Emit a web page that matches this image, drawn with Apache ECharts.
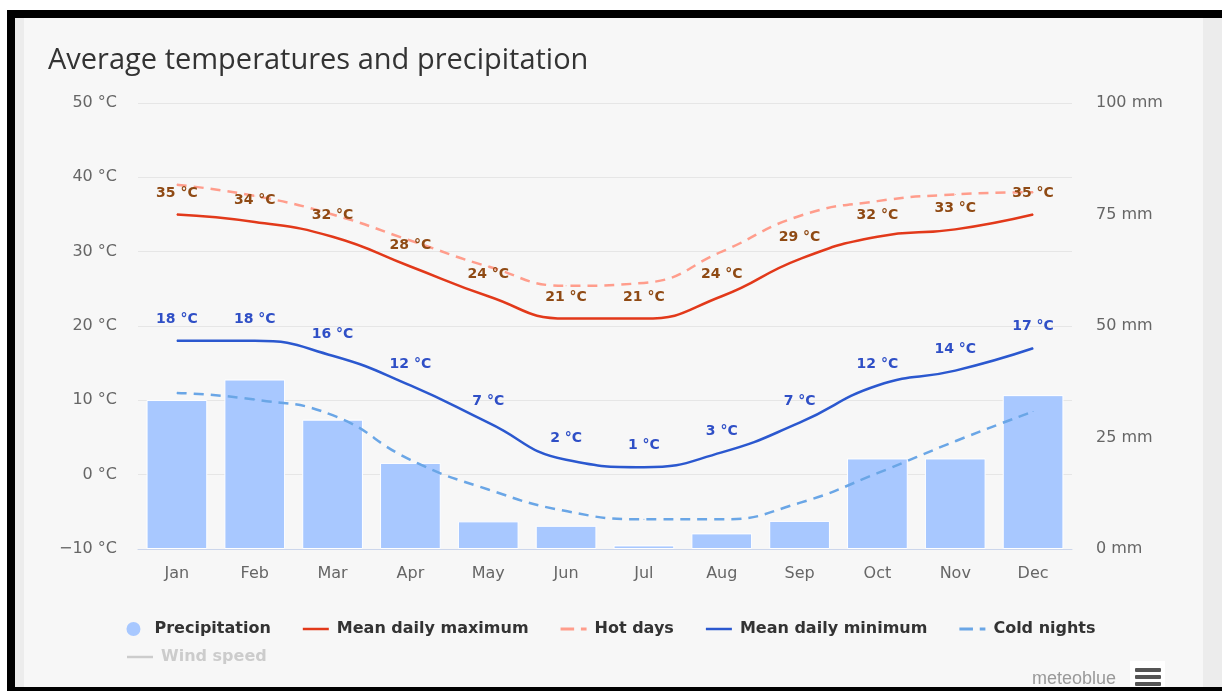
<!DOCTYPE html>
<html>
<head>
<meta charset="utf-8">
<title>Average temperatures and precipitation</title>
<script src="https://cdn.jsdelivr.net/npm/echarts@6/dist/echarts.min.js"></script>
<style>
html, body {
  margin: 0;
  padding: 0;
  width: 1222px;
  height: 691px;
  background: #fff;
  overflow: hidden;
}
.panel {
  position: absolute;
  left: 15px;
  top: 18px;
  width: 1207px;
  height: 669px;
  background: #f7f7f7;
}
.strip-left {
  position: absolute;
  left: 15px;
  top: 18px;
  width: 9px;
  height: 669px;
  background: #ececec;
}
.strip-right {
  position: absolute;
  left: 1203px;
  top: 18px;
  width: 19px;
  height: 669px;
  background: #ececec;
}
.bar-top {
  position: absolute;
  left: 7px;
  top: 10px;
  width: 1215px;
  height: 8px;
  background: #000;
  z-index: 3;
}
.bar-left {
  position: absolute;
  left: 7px;
  top: 10px;
  width: 8px;
  height: 681px;
  background: #000;
  z-index: 3;
}
.bar-bottom {
  position: absolute;
  left: 7px;
  top: 687px;
  width: 1215px;
  height: 4px;
  background: #000;
  z-index: 3;
}
#chart {
  position: absolute;
  left: 0;
  top: 0;
  width: 1222px;
  height: 691px;
  z-index: 2;
}
</style>
</head>
<body>
<div class="panel"></div>
<div class="strip-left"></div>
<div class="strip-right"></div>
<div id="chart"></div>
<div class="bar-top"></div>
<div class="bar-left"></div>
<div class="bar-bottom"></div>
<script>
var months = ["Jan", "Feb", "Mar", "Apr", "May", "Jun", "Jul", "Aug", "Sep", "Oct", "Nov", "Dec"];
// mm
var precipitation = [33.4, 38, 29, 19.3, 6.2, 5.2, 0.8, 3.5, 6.3, 20.3, 20.3, 34.5];
// °C
var meanMax = [35, 34, 32, 28, 24, 21, 21, 24, 29, 32, 33, 35];
var hotDays = [39, 37.5, 35, 31.5, 28, 25.4, 25.8, 30, 34.8, 36.8, 37.7, 38];
var meanMin = [18, 18, 16, 12, 7, 2, 1, 3, 7, 12, 14, 17];
var coldNights = [11, 10.1, 8, 2, -2, -4.9, -6, -6, -3.8, 0.2, 4.5, 8.5];
var windSpeed = [];

var tempTicks = { min: -10, max: 50, interval: 10 };
var rainTicks = { min: 0, max: 100, interval: 25 };

var labelFont = "DejaVu Sans, Verdana, sans-serif";

// legend icons: plain line and dash-dot line
var solidIcon = "path://M0,0h26v2.5h-26z";
var dashIcon = "path://M0,0h12v2.5h-12z M18,0h5v2.5h-5z";

var chart = echarts.init(document.getElementById("chart"), null, {
  width: 1222,
  height: 691
});

function lineSeries(name, data, color, dashed, labelColor) {
  var s = {
    name: name,
    type: "line",
    data: data,
    smooth: true,
    symbol: "circle",
    symbolSize: 1,
    lineStyle: { color: color, width: 2.5, type: dashed ? [10, 7] : "solid" },
    itemStyle: { color: color },
    z: dashed ? 2 : 3
  };
  if (labelColor) {
    s.label = {
      show: true,
      position: "top",
      distance: 14,
      formatter: "{c} \u00b0C",
      fontFamily: labelFont,
      fontSize: 14,
      fontWeight: "bold",
      color: labelColor
    };
  }
  return s;
}

var legendText = {
  fontFamily: labelFont,
  fontSize: 16,
  fontWeight: "bold",
  color: "#333",
  padding: [0, 0, 0, 3]
};

var option = {
  backgroundColor: "transparent",
  animation: false,
  title: {
    text: "Average temperatures and precipitation",
    left: 43,
    top: 41,
    textStyle: {
      fontFamily: "Open Sans, sans-serif",
      fontSize: 29,
      fontWeight: "normal",
      color: "#333"
    }
  },
  grid: {
    left: 138,
    right: 150,
    top: 103,
    bottom: 142
  },
  legend: [
    {
      left: "center",
      top: 616,
      itemWidth: 26,
      itemHeight: 14,
      itemGap: 32,
      itemStyle: { borderWidth: 0 },
      textStyle: legendText,
      data: [
        { name: "Precipitation", icon: "circle" },
        { name: "Mean daily maximum", icon: solidIcon },
        { name: "Hot days", icon: dashIcon },
        { name: "Mean daily minimum", icon: solidIcon },
        { name: "Cold nights", icon: dashIcon }
      ]
    },
    {
      left: 122,
      top: 644,
      itemWidth: 26,
      itemHeight: 14,
      inactiveColor: "#cccccc",
      itemStyle: { borderWidth: 0 },
      textStyle: legendText,
      data: [{ name: "Wind speed", icon: solidIcon }],
      selected: { "Wind speed": false }
    }
  ],
  xAxis: {
    type: "category",
    data: months,
    axisLine: { onZero: false, lineStyle: { color: "#ccd6eb", width: 1 } },
    axisTick: { alignWithLabel: true, length: 10, lineStyle: { color: "#ccd6eb" } },
    axisLabel: {
      margin: 17,
      fontFamily: labelFont,
      fontSize: 16,
      color: "#666"
    }
  },
  yAxis: [
    {
      type: "value",
      min: tempTicks.min,
      max: tempTicks.max,
      interval: tempTicks.interval,
      axisLine: { show: false },
      axisTick: { show: false },
      splitLine: { lineStyle: { color: "#e6e6e6" } },
      axisLabel: {
        margin: 21,
        fontFamily: labelFont,
        fontSize: 16,
        color: "#666",
        formatter: function(v) {
          return String(v).replace("-", "\u2212") + " \u00b0C";
        }
      }
    },
    {
      type: "value",
      min: rainTicks.min,
      max: rainTicks.max,
      interval: rainTicks.interval,
      axisLine: { show: false },
      axisTick: { show: false },
      splitLine: { show: false },
      axisLabel: {
        margin: 24,
        fontFamily: labelFont,
        fontSize: 16,
        color: "#666",
        formatter: "{value} mm"
      }
    }
  ],
  series: [
    {
      name: "Precipitation",
      type: "bar",
      yAxisIndex: 1,
      barWidth: "78%",
      data: precipitation,
      itemStyle: { color: "#a8c8ff", borderColor: "#ffffff", borderWidth: 1 },
      z: 1
    },
    lineSeries("Mean daily maximum", meanMax, "#e2391a", false, "#8f4a14"),
    lineSeries("Hot days", hotDays, "#ff9d8c", true),
    lineSeries("Mean daily minimum", meanMin, "#2b58cf", false, "#2f4fc6"),
    lineSeries("Cold nights", coldNights, "#6aa6e6", true),
    {
      name: "Wind speed",
      type: "line",
      data: windSpeed,
      symbol: "none",
      lineStyle: { color: "#888", width: 2 },
      itemStyle: { color: "#888" }
    }
  ],
  graphic: [
    {
      type: "text",
      left: 1032,
      top: 670,
      style: {
        text: "meteoblue",
        fontFamily: "Liberation Sans, Arial, sans-serif",
        fontSize: 18,
        fill: "#999"
      }
    },
    {
      type: "rect",
      left: 1130,
      top: 661,
      shape: { width: 35, height: 30 },
      style: { fill: "#ffffff" }
    },
    {
      type: "rect",
      left: 1135,
      top: 668,
      shape: { width: 26, height: 4, r: 1 },
      style: { fill: "#555" }
    },
    {
      type: "rect",
      left: 1135,
      top: 675,
      shape: { width: 26, height: 4, r: 1 },
      style: { fill: "#555" }
    },
    {
      type: "rect",
      left: 1135,
      top: 682,
      shape: { width: 26, height: 4, r: 1 },
      style: { fill: "#555" }
    }
  ]
};

chart.setOption(option);
</script>
</body>
</html>
